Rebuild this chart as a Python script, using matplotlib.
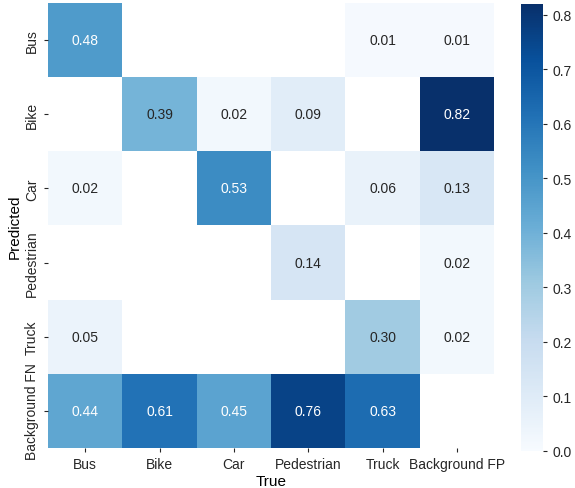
import matplotlib
matplotlib.use('Agg')

import numpy as np
import matplotlib.pyplot as plt
import seaborn as sns

# Confusion matrix data (rows = predicted, columns = true)
true_labels = ['Bus', 'Bike', 'Car', 'Pedestrian', 'Truck', 'Background FP']
pred_labels = ['Bus', 'Bike', 'Car', 'Pedestrian', 'Truck', 'Background FN']

row_bus = [0.48, 0.00, 0.00, 0.00, 0.01, 0.01]
row_bike = [0.00, 0.39, 0.02, 0.09, 0.00, 0.82]
row_car = [0.02, 0.00, 0.53, 0.00, 0.06, 0.13]
row_ped = [0.00, 0.00, 0.00, 0.14, 0.00, 0.02]
row_truck = [0.05, 0.00, 0.00, 0.00, 0.30, 0.02]
row_bg = [0.44, 0.61, 0.45, 0.76, 0.63, 0.00]

if __name__ == '__main__':

    plt.rcParams['font.family'] = ['Liberation Sans', 'DejaVu Sans']
    plt.rcParams['text.color'] = '#262626'
    plt.rcParams['xtick.color'] = '#262626'
    plt.rcParams['ytick.color'] = '#262626'

    # Stack rows and hide empty cells
    matrix = np.array([row_bus, row_bike, row_car, row_ped, row_truck, row_bg])
    matrix[matrix < 0.005] = np.nan

    W, H = 575, 489
    fig = plt.figure(figsize=(W / 100, H / 100), dpi=100)

    # Place the heatmap and colorbar axes by pixel
    ax = fig.add_axes([48 / W, 1 - 449 / H, 446 / W, 445 / H])
    cax = fig.add_axes([521 / W, 1 - 452 / H, 22 / W, 447 / H])

    sns.heatmap(
        matrix, ax=ax, cbar_ax=cax, cmap='Blues', vmin=0.0,
        annot=True, fmt='.2f', annot_kws={'size': 10},
        xticklabels=true_labels, yticklabels=pred_labels,
    )
    ax.set_facecolor((1, 1, 1))

    ax.set_xlabel('True', fontsize=11, labelpad=2)
    ax.set_ylabel('Predicted', fontsize=11, labelpad=2)
    ax.tick_params(axis='both', labelsize=10, length=3, width=0.8)
    plt.setp(ax.get_yticklabels(), rotation=90, va='center')
    plt.setp(ax.get_xticklabels(), rotation=0)

    cax.tick_params(labelsize=10, length=3, width=0.8)
    cax.set_yticks(np.arange(0, 0.81, 0.1))

    fig.savefig('out.png', dpi=100)
    plt.close()
